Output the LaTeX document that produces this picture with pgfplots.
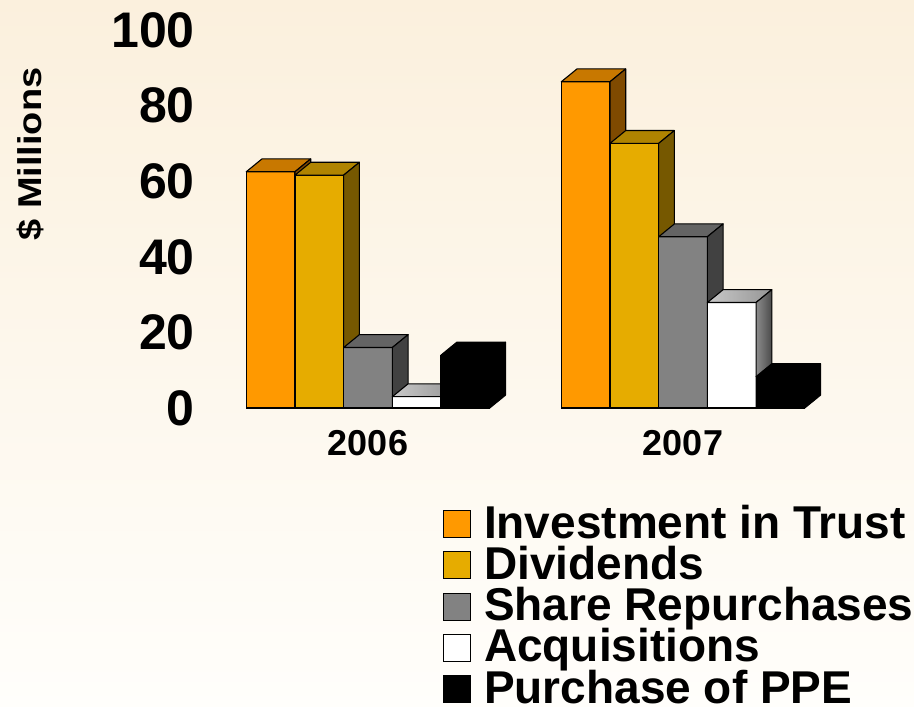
\documentclass[border=0pt]{standalone}
\usepackage{pgfplots}
\pgfplotsset{compat=1.18}
\usepackage{fontspec}
\setmainfont{Liberation Sans}
\usepackage{graphicx}

\definecolor{bgtop}{RGB}{251,240,221}
\definecolor{bgbot}{RGB}{255,254,251}
\definecolor{invF}{RGB}{255,153,0}
\definecolor{invT}{RGB}{200,120,0}
\definecolor{invS}{RGB}{127,74,0}
\definecolor{divF}{RGB}{230,172,0}
\definecolor{divT}{RGB}{176,132,0}
\definecolor{divS}{RGB}{118,88,0}
\definecolor{shrF}{RGB}{130,130,130}
\definecolor{shrT}{RGB}{100,100,100}
\definecolor{shrS}{RGB}{65,65,65}
\definecolor{acqTL}{RGB}{200,200,200}
\definecolor{acqTR}{RGB}{150,150,150}
\definecolor{acqSL}{RGB}{140,140,140}
\definecolor{acqSR}{RGB}{74,74,74}

\pgfplotsset{
  mylegimg/.style={legend image code/.code={%
    \draw[##1,draw=black,line width=1.1pt] (0pt,-9pt) rectangle (27pt,18pt);
    \path (40pt,0pt);}},
  face/.style={draw=black, line width=1.1pt, line join=round, mark=none, forget plot},
  front/.style={ybar, bar width=0.1546, draw=black, line width=1.1pt, mylegimg},
}

\begin{document}
\begin{tikzpicture}
\useasboundingbox (0,0) rectangle (914pt,707pt);
\shade[top color=bgtop, bottom color=bgbot] (0,0) rectangle (914pt,707pt);
\begin{axis}[
  at={(210.5pt,299pt)}, anchor=south west,
  scale only axis, width=630pt, height=378pt,
  xmin=-0.5, xmax=1.5, ymin=0, ymax=100,
  clip=false,
  axis line style={draw=none},
  major tick length=0pt,
  xtick={0,1}, xticklabels={2006,2007},
  ytick={0,20,40,60,80,100},
  /pgf/number format/assume math mode=true,
  yticklabel style={font=\fontsize{50}{50}\selectfont\bfseries, anchor=east, inner sep=0pt, xshift=-15.5pt},
  xticklabel style={font=\fontsize{36}{36}\selectfont\bfseries, anchor=north, inner sep=0pt, yshift=-22pt},
  ylabel={\scalebox{1.15}[1]{\$ Millions}},
  ylabel style={at={(rel axis cs:-0.285,0.672)}, anchor=center, font=\fontsize{33}{33}\selectfont\bfseries},
  legend style={at={(0.369,-0.2646)}, anchor=north west, draw=none, fill=none,
    inner sep=0pt, outer sep=0pt, row sep=0pt,
    nodes={inner sep=0pt, outer sep=0pt, text height=30pt, text depth=11.25pt,
      font=\fontsize{46}{46}\selectfont\bfseries}},
  legend cell align=left,
]
% ---- Investment in Trust ----
\addplot[front, fill=invF, bar shift=-0.3092] coordinates {(0,62.5) (1,86.3)};
\addlegendentry{Investment in Trust}
\addplot[face, fill=invT] coordinates {(-0.3865,62.5) (-0.3365,65.9) (-0.1819,65.9) (-0.2319,62.5)} -- cycle;
\addplot[face, fill=invS] coordinates {(-0.2319,0) (-0.2319,62.5) (-0.1819,65.9) (-0.1819,3.4)} -- cycle;
\addplot[face, fill=invT] coordinates {(0.6135,86.3) (0.6635,89.7) (0.8181,89.7) (0.7681,86.3)} -- cycle;
\addplot[face, fill=invS] coordinates {(0.7681,0) (0.7681,86.3) (0.8181,89.7) (0.8181,3.4)} -- cycle;
% ---- Dividends ----
\addplot[front, fill=divF, bar shift=-0.1546] coordinates {(0,61.6) (1,70.0)};
\addlegendentry{Dividends}
\addplot[face, fill=divT] coordinates {(-0.2319,61.6) (-0.1819,65.0) (-0.0273,65.0) (-0.0773,61.6)} -- cycle;
\addplot[face, fill=divS] coordinates {(-0.0773,0) (-0.0773,61.6) (-0.0273,65.0) (-0.0273,3.4)} -- cycle;
\addplot[face, fill=divT] coordinates {(0.7681,70.0) (0.8181,73.4) (0.9727,73.4) (0.9227,70.0)} -- cycle;
\addplot[face, fill=divS] coordinates {(0.9227,0) (0.9227,70.0) (0.9727,73.4) (0.9727,3.4)} -- cycle;
% ---- Share Repurchases ----
\addplot[front, fill=shrF, bar shift=0] coordinates {(0,16.0) (1,45.3)};
\addlegendentry{Share Repurchases}
\addplot[face, fill=shrT] coordinates {(-0.0773,16.0) (-0.0273,19.4) (0.1273,19.4) (0.0773,16.0)} -- cycle;
\addplot[face, fill=shrS] coordinates {(0.0773,0) (0.0773,16.0) (0.1273,19.4) (0.1273,3.4)} -- cycle;
\addplot[face, fill=shrT] coordinates {(0.9227,45.3) (0.9727,48.7) (1.1273,48.7) (1.0773,45.3)} -- cycle;
\addplot[face, fill=shrS] coordinates {(1.0773,0) (1.0773,45.3) (1.1273,48.7) (1.1273,3.4)} -- cycle;
% ---- Acquisitions ----
\addplot[front, fill=white, bar shift=0.1546] coordinates {(0,3.0) (1,27.9)};
\addlegendentry{Acquisitions}
\addplot[face, left color=acqTL, right color=acqTR] coordinates {(0.0773,3.0) (0.1273,6.4) (0.2819,6.4) (0.2319,3.0)} -- cycle;
\addplot[face, left color=acqSL, right color=acqSR] coordinates {(0.2319,0) (0.2319,3.0) (0.2819,6.4) (0.2819,3.4)} -- cycle;
\addplot[face, left color=acqTL, right color=acqTR] coordinates {(1.0773,27.9) (1.1273,31.3) (1.2819,31.3) (1.2319,27.9)} -- cycle;
\addplot[face, left color=acqSL, right color=acqSR] coordinates {(1.2319,0) (1.2319,27.9) (1.2819,31.3) (1.2819,3.4)} -- cycle;
% ---- Purchase of PPE ----
\addplot[front, fill=black, bar shift=0.3092] coordinates {(0,14.0) (1,8.3)};
\addlegendentry{Purchase of PPE}
\addplot[face, fill=black] coordinates {(0.2319,14.0) (0.2819,17.4) (0.4365,17.4) (0.3865,14.0)} -- cycle;
\addplot[face, fill=black] coordinates {(0.3865,0) (0.3865,14.0) (0.4365,17.4) (0.4365,3.4)} -- cycle;
\addplot[face, fill=black] coordinates {(1.2319,8.3) (1.2819,11.7) (1.4365,11.7) (1.3865,8.3)} -- cycle;
\addplot[face, fill=black] coordinates {(1.3865,0) (1.3865,8.3) (1.4365,11.7) (1.4365,3.4)} -- cycle;
\end{axis}
\end{tikzpicture}
\end{document}
